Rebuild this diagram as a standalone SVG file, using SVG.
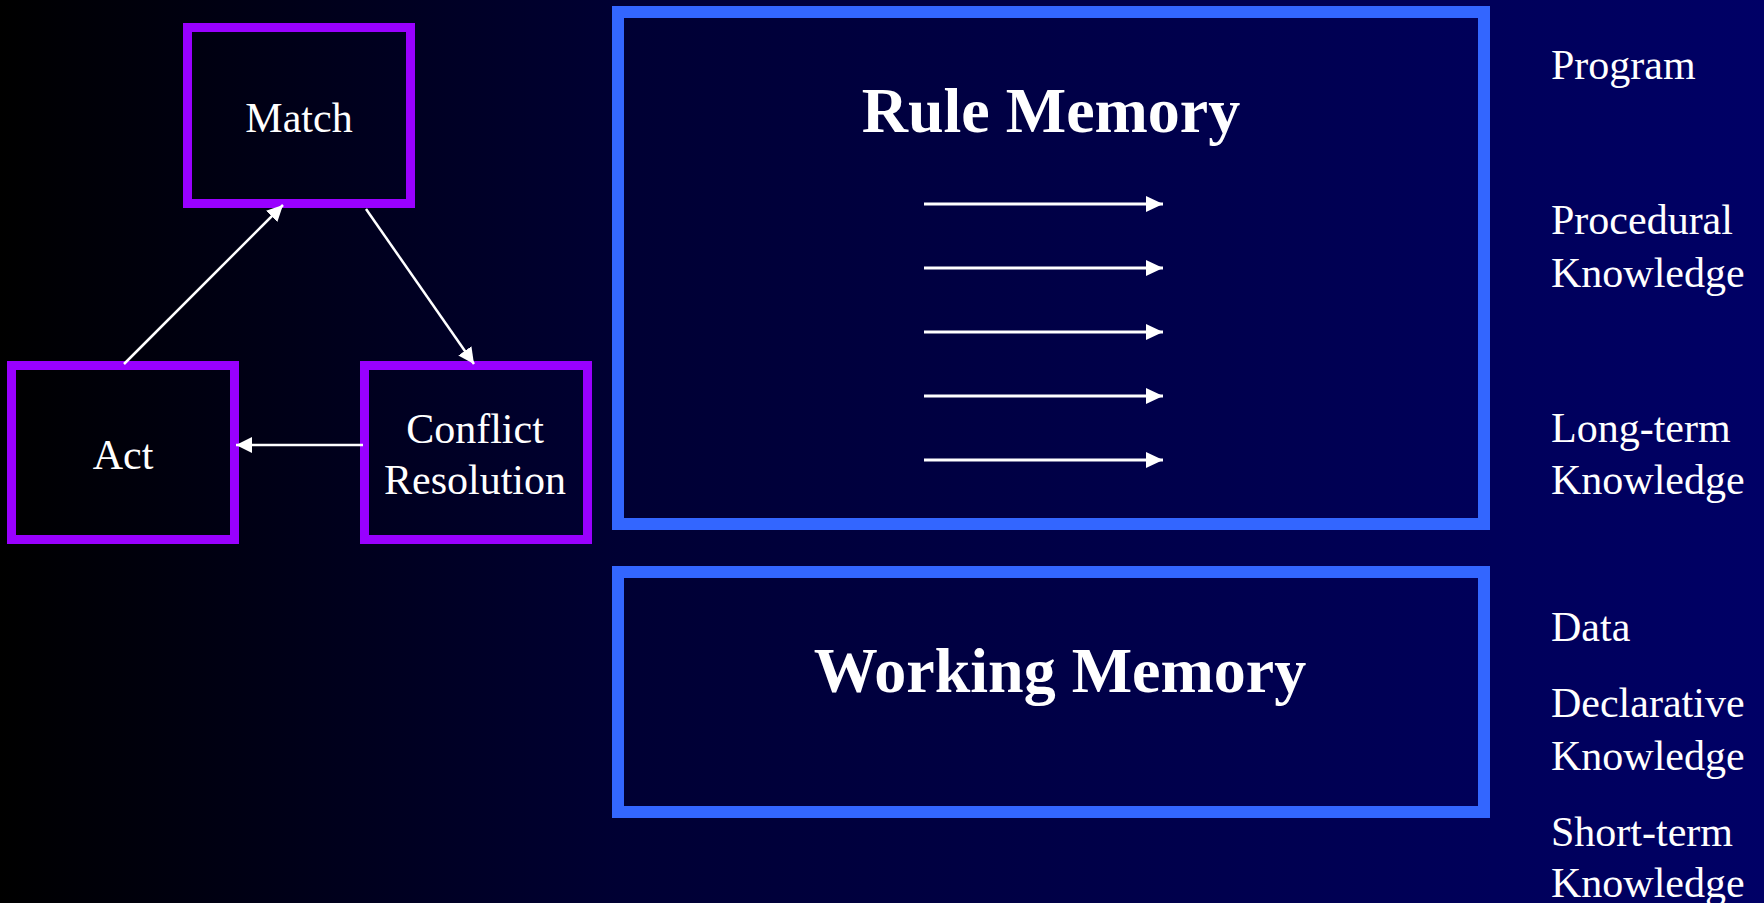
<svg xmlns="http://www.w3.org/2000/svg" width="1764" height="903" viewBox="0 0 1764 903">
<defs>
<linearGradient id="bg" x1="0" y1="0" x2="1" y2="0">
<stop offset="0" stop-color="#000000"/>
<stop offset="0.35" stop-color="#000033"/>
<stop offset="1" stop-color="#000066"/>
</linearGradient>
<marker id="ah" viewBox="0 0 16 16" refX="16" refY="8" markerWidth="16" markerHeight="16" markerUnits="userSpaceOnUse" orient="auto">
<path d="M0,0 L16,8 L0,16 z" fill="#ffffff"/>
</marker>
<marker id="ah2" viewBox="0 0 17 16" refX="17" refY="8" markerWidth="17" markerHeight="16" markerUnits="userSpaceOnUse" orient="auto">
<path d="M0,0 L17,8 L0,16 z" fill="#ffffff"/>
</marker>
</defs>
<style>
.pbox{fill:none;stroke:#9900FF;stroke-width:9}
.bbox{fill:none;stroke:#3366FF;stroke-width:12}
.t{font-family:"Liberation Serif","Times New Roman",serif;fill:#ffffff;font-size:42px}
.b{font-family:"Liberation Serif","Times New Roman",serif;fill:#ffffff;font-size:64px;font-weight:bold}
.c{stroke:#ffffff;stroke-width:2.5;fill:none;marker-end:url(#ah)}
.r{stroke:#ffffff;stroke-width:3;fill:none;marker-end:url(#ah2)}
</style>
<rect x="0" y="0" width="1764" height="903" fill="url(#bg)"/>
<g id="match">
<rect class="pbox" x="187.5" y="27.5" width="223" height="176"/>
<text class="t" x="299" y="132" text-anchor="middle">Match</text>
</g>
<g id="act">
<rect class="pbox" x="11.5" y="365.5" width="223" height="174"/>
<text class="t" x="123" y="469" text-anchor="middle">Act</text>
</g>
<g id="conflict">
<rect class="pbox" x="364.5" y="365.5" width="223" height="174"/>
<text class="t" x="475" y="443" text-anchor="middle">Conflict</text>
<text class="t" x="475" y="494" text-anchor="middle">Resolution</text>
</g>
<g id="rule-memory">
<rect class="bbox" x="618" y="12" width="866" height="512"/>
<text class="b" x="1051" y="132" text-anchor="middle">Rule Memory</text>
</g>
<g id="working-memory">
<rect class="bbox" x="618" y="572" width="866" height="240"/>
<text class="b" x="1060" y="692" text-anchor="middle">Working Memory</text>
</g>
<g id="labels">
<text class="t" x="1551" y="79">Program</text>
<text class="t" x="1551" y="234">Procedural</text>
<text class="t" x="1551" y="287">Knowledge</text>
<text class="t" x="1551" y="442">Long-term</text>
<text class="t" x="1551" y="494">Knowledge</text>
<text class="t" x="1551" y="641">Data</text>
<text class="t" x="1551" y="717">Declarative</text>
<text class="t" x="1551" y="770">Knowledge</text>
<text class="t" x="1551" y="846">Short-term</text>
<text class="t" x="1551" y="897">Knowledge</text>
</g>
<g id="connectors">
<line class="c" x1="124" y1="364" x2="283" y2="205"/>
<line class="c" x1="366" y1="209" x2="474" y2="364"/>
<line class="c" x1="363" y1="445" x2="236" y2="445"/>
<line class="r" x1="924" y1="204" x2="1163" y2="204"/>
<line class="r" x1="924" y1="268" x2="1163" y2="268"/>
<line class="r" x1="924" y1="332" x2="1163" y2="332"/>
<line class="r" x1="924" y1="396" x2="1163" y2="396"/>
<line class="r" x1="924" y1="460" x2="1163" y2="460"/>
</g>
</svg>
